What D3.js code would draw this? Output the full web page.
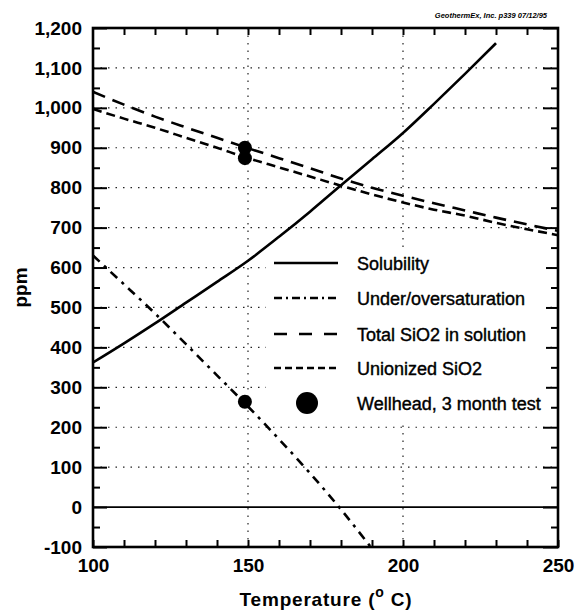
<!DOCTYPE html>
<html><head><meta charset="utf-8">
<script src="https://cdn.jsdelivr.net/npm/d3@7/dist/d3.min.js"></script>
<style>
html,body{margin:0;padding:0;background:#fff;}
svg{display:block;font-family:"Liberation Sans",Arial,sans-serif;}
</style></head>
<body>
<svg id="chart" width="577" height="612"></svg>
<script>
// ---- data ----
const solubilityT = [100,110,120,130,140,150,160,170,180,190,200,210,220,230];
const solubility  = [362,410,460,512,564,617,677,740,806,871,937,1010,1085,1162];
const underOverT  = [100,110,120,130,140,150,160,170,180,190];
const underOver   = [630,558,485,408,330,252,170,85,-6,-104];
const siO2T       = [100,110,120,130,140,150,160,170,180,190,200,210,220,230,240,250];
const totalSiO2   = [1040,1008,978,951,925,899,874,849,823,800,780,761,743,725,708,692];
const unionized   = [997,973,950,925,900,874,851,828,805,783,763,745,730,712,696,681];
const wellheadT   = [149,149,149];
const wellhead    = [900,874,264];
const xTickValues = [100,150,200,250];
const xTickLabels = ["100","150","200","250"];
const yTickValues = [1200,1100,1000,900,800,700,600,500,400,300,200,100,0,-100];
const yTickLabels = ["1,200","1,100","1,000","900","800","700","600","500","400","300","200","100","0","-100"];
const legendLabels = ["Solubility","Under/oversaturation","Total SiO2 in solution","Unionized SiO2","Wellhead, 3 month test"];

// ---- layout ----
const svg = d3.select("#chart");
const L = 93, R = 558, T = 28, B = 547;
const x = d3.scaleLinear().domain([100,250]).range([L,R]);
const y = d3.scaleLinear().domain([-100,1200]).range([B,T]);

svg.append("defs").append("clipPath").attr("id","clip")
  .append("rect").attr("x",L).attr("y",T).attr("width",R-L).attr("height",B-T);

// gridlines
const grid = svg.append("g").attr("stroke","#222").attr("stroke-width",1.2).attr("stroke-dasharray","1.5,6");
grid.selectAll(".h").data(d3.range(100,1200,100)).join("line")
  .attr("x1",L).attr("x2",R).attr("y1",d=>y(d)).attr("y2",d=>y(d));
grid.selectAll(".v").data([150,200]).join("line")
  .attr("y1",T).attr("y2",B).attr("x1",d=>x(d)).attr("x2",d=>x(d));
// zero line
svg.append("line").attr("x1",L).attr("x2",R).attr("y1",y(0)).attr("y2",y(0))
  .attr("stroke","#000").attr("stroke-width",1.6);

// axes
const fmtY = d => yTickLabels[yTickValues.indexOf(d)];
const fmtX = d => xTickLabels[xTickValues.indexOf(d)];
function styleAxis(g){ g.select(".domain").remove(); g.selectAll(".tick line").attr("stroke","#000").attr("stroke-width",2); }
const yMinor = d3.range(-50,1200,100);
const xMinor = d3.range(110,250,10).filter(v=>v!==150&&v!==200);

svg.append("g").attr("transform",`translate(${L},0)`)
  .call(d3.axisLeft(y).tickValues(yTickValues).tickSize(-14).tickPadding(11).tickFormat(fmtY))
  .call(styleAxis)
  .call(g=>g.selectAll("text").attr("font-size",19).attr("font-weight","bold").attr("fill","#000").attr("font-family","Liberation Sans, Arial, sans-serif"));
svg.append("g").attr("transform",`translate(${L},0)`)
  .call(d3.axisLeft(y).tickValues(yMinor).tickSize(-7).tickFormat("")).call(styleAxis);
svg.append("g").attr("transform",`translate(${R},0)`)
  .call(d3.axisRight(y).tickValues(yTickValues).tickSize(-15).tickFormat("")).call(styleAxis);
svg.append("g").attr("transform",`translate(${R},0)`)
  .call(d3.axisRight(y).tickValues(yMinor).tickSize(-7).tickFormat("")).call(styleAxis);
svg.append("g").attr("transform",`translate(0,${B})`)
  .call(d3.axisBottom(x).tickValues(xTickValues).tickSize(-7).tickPadding(11.5).tickFormat(fmtX))
  .call(styleAxis)
  .call(g=>g.selectAll("text").attr("font-size",19).attr("font-weight","bold").attr("fill","#000").attr("font-family","Liberation Sans, Arial, sans-serif"));
svg.append("g").attr("transform",`translate(0,${B})`)
  .call(d3.axisBottom(x).tickValues(xMinor).tickSize(-7).tickFormat("")).call(styleAxis);
svg.append("g").attr("transform",`translate(0,${T})`)
  .call(d3.axisTop(x).tickValues(xMinor.concat([150,200]))
  .tickSize(-7).tickFormat("")).call(styleAxis);

// curves
const plot = svg.append("g").attr("clip-path","url(#clip)");
const line = d3.line().x(d=>x(d[0])).y(d=>y(d[1])).curve(d3.curveMonotoneX);
const zip = (a,b)=>a.map((v,i)=>[v,b[i]]);
const series = [
  {pts:zip(siO2T,totalSiO2), dash:"13,8", w:2.6},
  {pts:zip(siO2T,unionized), dash:"9,5", w:2.6},
  {pts:zip(solubilityT,solubility), dash:null, w:2.6},
  {pts:zip(underOverT,underOver), dash:"9,6,3,6", w:2.6}
];
series.forEach(s=>{
  plot.append("path").datum(s.pts).attr("d",line).attr("fill","none")
    .attr("stroke","#000").attr("stroke-width",s.w).attr("stroke-dasharray",s.dash);
});

plot.selectAll(".pt").data(zip(wellheadT,wellhead)).join("circle")
  .attr("cx",d=>x(d[0])).attr("cy",d=>y(d[1])).attr("r",7).attr("fill","#000");

// legend
const lg = svg.append("g");
lg.append("rect").attr("x",266).attr("y",250).attr("width",280).attr("height",170).attr("fill","#fff");
const rowY = [263,298,334,368,403];
const legDash = [null,"8,4,2,4","13,12","7,4"];
legDash.forEach((d,i)=>{
  lg.append("line").attr("x1",274).attr("x2",338).attr("y1",rowY[i]).attr("y2",rowY[i])
    .attr("stroke","#000").attr("stroke-width",2.4).attr("stroke-dasharray",d);
});
lg.append("circle").attr("cx",307).attr("cy",rowY[4]).attr("r",11).attr("fill","#000");
legendLabels.forEach((t,i)=>{
  lg.append("text").attr("x",357).attr("y",rowY[i]+6.5).attr("font-size",18)
    .attr("fill","#000").attr("stroke","#000").attr("stroke-width",0.4).text(t);
});

// frame
svg.append("rect").attr("x",L).attr("y",T).attr("width",R-L).attr("height",B-T)
  .attr("fill","none").attr("stroke","#000").attr("stroke-width",2.6);

// titles
svg.append("text").attr("transform",`translate(27,${(T+B)/2}) rotate(-90)`)
  .attr("text-anchor","middle").attr("font-size",19).attr("font-weight","bold").text("ppm");
const xt = svg.append("text").attr("x",326).attr("y",606).attr("text-anchor","middle")
  .attr("font-size",19).attr("font-weight","bold").attr("letter-spacing",0.8);
xt.append("tspan").text("Temperature (");
xt.append("tspan").attr("font-size",14).attr("dy",-9).text("o");
xt.append("tspan").attr("dy",9).text(" C)");

svg.append("text").attr("x",547).attr("y",18).attr("text-anchor","end")
  .attr("font-size",7.5).attr("font-weight","bold").attr("font-style","italic")
  .text("GeothermEx, Inc. p339 07/12/95");
</script>
</body></html>
